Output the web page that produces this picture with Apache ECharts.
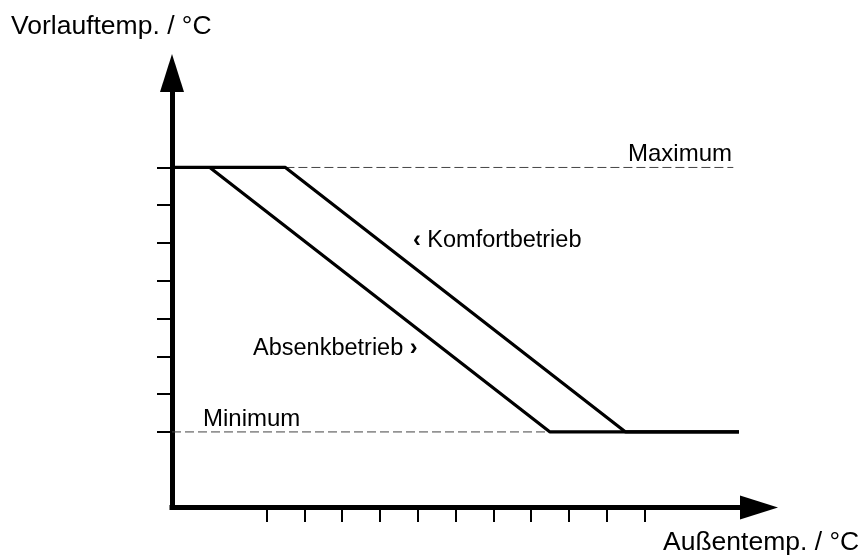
<!DOCTYPE html>
<html>
<head>
<meta charset="utf-8">
<style>
  html, body { margin: 0; padding: 0; background: #fff; }
  #chart { width: 863px; height: 558px; }
</style>
<script src="https://cdn.jsdelivr.net/npm/echarts@6/dist/echarts.min.js"></script>
</head>
<body>
<div id="chart"></div>
<script>
// Heizkennlinie, Achsen in Teilstrich-Einheiten
const xTicks = [2.5, 3.5, 4.5, 5.5, 6.5, 7.5, 8.5, 9.5, 10.5, 11.5, 12.5]
const yTicks = [2, 3, 4, 5, 6, 7, 8, 9]
const komfort = [[0, 9], [3, 9], [12, 2], [15, 2]]
const absenk = [[1, 9], [10, 2], [15, 2]]
const maxLine = [[3, 9], [14.85, 9]]
const minLine = [[0, 2], [10, 2]]
const titles = ['Vorlauftemp. / °C', 'Außentemp. / °C']
const notes = ['Maximum', 'Minimum', '{b|‹} Komfortbetrieb', 'Absenkbetrieb {b|›}']

const FONT = '"Liberation Sans", Arial, Helvetica, sans-serif'
const chart = echarts.init(document.getElementById('chart'), null, { renderer: 'canvas' })

const axisCommon = {
  type: 'value',
  min: 0,
  splitLine: { show: false },
  axisLabel: { show: false },
  axisLine: {
    show: true,
    onZero: false,
    symbol: ['none', 'triangle'],
    symbolSize: [24, 38],
    lineStyle: { color: '#000', width: 5, cap: 'square' },
  },
}

const text = (str, x, y, size) => ({
  type: 'text',
  x, y,
  silent: true,
  style: {
    text: str,
    fontSize: size,
    fontFamily: FONT,
    fill: '#000',
    verticalAlign: 'middle',
    rich: { b: { fontSize: size, fontFamily: FONT, fontWeight: 'bold', fill: '#000' } },
  },
})

const dashed = data => ({
  type: 'line',
  data,
  symbol: 'none',
  z: 1,
  lineStyle: { color: '#444', width: 1, type: [9, 4] },
})

const solid = data => ({
  type: 'line',
  data,
  symbol: 'none',
  z: 3,
  lineStyle: { color: '#000', width: 3.2 },
})

chart.setOption({
  animation: false,
  grid: { left: 172, right: 104, top: 73, bottom: 50.5, outerBoundsMode: 'none' },
  xAxis: {
    ...axisCommon,
    max: 15.53,
    axisTick: { show: true, customValues: xTicks, length: 14.5, lineStyle: { color: '#000', width: 2 } },
  },
  yAxis: {
    ...axisCommon,
    max: 11.5,
    axisTick: { show: true, customValues: yTicks, length: 15, lineStyle: { color: '#000', width: 2 } },
  },
  series: [dashed(maxLine), dashed(minLine), solid(komfort), solid(absenk)],
  graphic: [
    text(titles[0], 11, 27, 26.5),
    text(titles[1], 663, 543, 26.5),
    text(notes[0], 628, 154, 24),
    text(notes[1], 203, 419.5, 24),
    text(notes[2], 413, 240.5, 23.5),
    text(notes[3], 253, 349, 23.5),
  ],
})
</script>
</body>
</html>
